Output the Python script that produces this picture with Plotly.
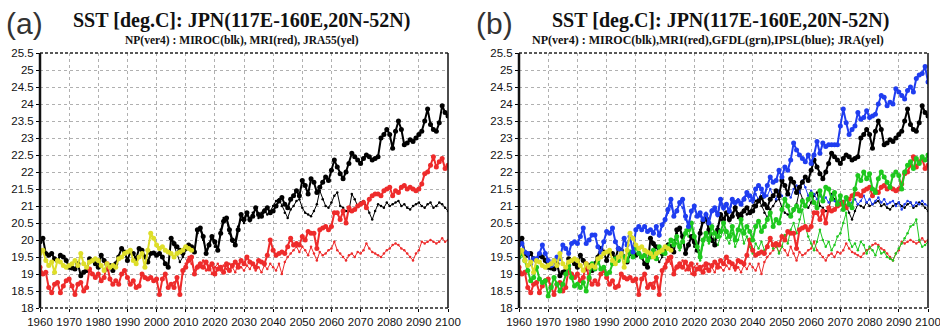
import plotly.graph_objects as go

years_all = list(range(1960, 2101))
years_lo = list(range(2006, 2101))
years_jra = list(range(1960, 2013))

# MIROC (black) high scenario 1960-2100
miroc_hi = [19.95, 20.05, 19.6, 19.55, 19.6, 19.45, 19.4, 19.55, 19.5, 19.4,
            19.2, 19.18, 19.15, 19.3, 18.95, 19.05, 19.1, 19.45, 19.4, 19.3,
            19.2, 19.55, 19.4, 19.15, 19.25, 19.1, 19.3, 19.5, 19.75, 19.65,
            19.4, 19.65, 19.6, 19.45, 19.75, 19.7, 19.5, 19.35, 19.6, 19.62,
            19.55, 19.6, 19.5, 19.3, 19.2, 20.05, 19.9, 19.8, 19.7, 19.6,
            19.75, 19.85, 19.8, 19.65, 20.3, 20.35, 20.1, 19.6, 19.85, 20.1,
            19.95, 19.7, 20.2, 20.55, 20.65, 20.3, 20.0, 19.85, 20.3, 20.75,
            20.6, 20.8, 20.6, 20.7, 20.95, 20.75, 20.7, 20.85, 20.95, 20.8,
            20.85, 21.0, 21.15, 21.25, 21.05, 20.95, 21.2, 21.3, 21.45, 21.3,
            21.75, 21.6, 21.35, 21.8, 21.7, 21.4, 21.55, 21.7, 21.85, 21.75,
            22.05, 22.35, 22.15, 21.95, 21.8, 22.0, 22.25, 22.55, 22.45, 22.35,
            22.25, 22.4, 22.5, 22.45, 22.35, 22.4, 22.45, 23.0, 23.1, 23.25,
            23.1, 22.7, 23.2, 23.5, 23.25, 22.8, 22.85, 22.95, 22.9, 23.0,
            23.1, 23.2, 23.5, 23.85, 23.4, 23.25, 23.2, 23.45, 23.95, 23.75,
            23.65]

# MIROC (black) low scenario 2006-2100
miroc_lo = [19.85, 19.6, 19.35, 19.5, 19.7, 19.8, 19.75, 19.7, 20.2, 20.3,
            20.0, 19.7, 19.9, 20.05, 19.8, 19.75, 20.3, 20.65, 20.6, 20.2,
            19.95, 20.0, 20.4, 20.6, 20.5, 20.75, 20.55, 20.8, 20.9, 20.65,
            20.8, 20.9, 20.75, 20.85, 21.0, 21.15, 21.2, 21.0, 20.8, 20.65,
            20.9, 21.0, 21.15, 21.2, 20.95, 20.8, 20.75, 20.7, 20.85, 21.05,
            21.45, 21.2, 21.0, 20.95, 21.1, 21.3, 21.4, 21.0, 20.95, 20.85,
            20.85, 21.35, 21.2, 21.0, 21.1, 21.15, 21.0, 20.8, 20.6, 20.85,
            21.05, 21.0, 20.95, 21.1, 21.0, 21.05, 21.1, 21.15, 21.0, 21.05,
            20.95, 20.9, 21.0, 21.05, 21.1, 21.0, 20.95, 21.05, 21.1, 20.95,
            21.0, 21.1, 21.05, 20.95, 20.85]

# MRI (red) high scenario 1960-2100
mri_hi = [19.2, 19.0, 19.05, 18.6, 18.45, 18.7, 18.75, 18.45, 18.65, 18.8,
          18.85, 18.65, 18.4, 18.7, 18.75, 18.5, 18.6, 19.15, 19.0, 18.9,
          19.0, 18.8, 18.9, 19.3, 18.85, 18.7, 18.8, 18.7, 19.0, 19.1,
          18.9, 18.7, 18.8, 18.6, 18.65, 19.0, 18.9, 18.85, 18.9, 18.8,
          18.85, 18.4, 18.85, 19.0, 18.6, 18.7, 18.6, 18.9, 18.4, 19.1,
          19.2, 19.4, 19.5, 19.0, 19.2, 19.3, 19.2, 19.35, 19.15, 19.3,
          19.0, 19.15, 19.2, 19.05, 19.3, 19.1, 19.25, 19.35, 19.2, 19.4,
          19.3, 19.5, 19.35, 19.3, 19.2, 19.4, 19.35, 19.3, 19.55, 20.0,
          19.7, 19.55, 19.6, 19.65, 19.6, 19.8, 20.05, 19.85, 19.9, 19.85,
          20.1, 20.0, 20.25, 20.2, 20.2, 19.75, 20.3, 20.35, 20.4, 20.3,
          20.4, 20.8, 20.8, 20.6, 20.85, 20.5, 20.95, 20.85, 20.9, 21.0,
          21.05, 21.1, 20.95, 21.2, 21.3, 21.35, 21.35, 21.3, 21.45, 21.5,
          21.55, 21.3, 21.45, 21.4, 21.55, 21.6, 21.5, 21.55, 21.5, 21.45,
          21.5, 21.65, 21.95, 22.0, 22.2, 22.45, 22.15, 22.3, 22.4, 22.1,
          22.2]

# MRI (red) low scenario 2006-2100
mri_lo = [18.75, 18.85, 18.55, 19.0, 19.3, 19.5, 19.3, 19.1, 19.25, 19.2,
          19.4, 19.1, 19.25, 19.0, 19.2, 19.3, 19.1, 19.25, 19.15, 19.3,
          19.2, 19.05, 19.3, 19.2, 19.1, 19.25, 19.15, 19.3, 19.1, 19.2,
          19.05, 19.25, 19.15, 19.3, 19.2, 19.1, 19.3, 19.0, 19.35, 19.5,
          19.6, 19.7, 19.8, 19.65, 19.8, 19.7, 19.55, 19.8, 19.6, 19.4,
          19.65, 19.55, 19.6, 19.7, 19.75, 19.95, 19.7, 19.6, 19.5, 19.4,
          19.55, 19.6, 19.5, 19.65, 19.6, 19.7, 19.9, 19.75, 19.65, 19.6,
          19.55, 19.5, 19.6, 19.7, 19.75, 19.85, 19.9, 19.85, 19.75, 19.7,
          19.6, 19.5, 19.4, 19.6, 19.7, 19.95, 19.9, 19.95, 20.0, 19.95,
          19.9, 19.95, 20.05, 19.95, 20.0]

# GFDL (green) high scenario 1960-2100
gfdl_hi = [19.5, 19.6, 19.4, 19.1, 18.8, 18.9, 19.2, 18.85, 18.75, 18.8,
           18.35, 18.6, 18.9, 18.7, 18.5, 18.7, 19.0, 19.25, 18.9, 18.65,
           18.7, 18.6, 18.75, 18.5, 18.9, 19.3, 19.15, 19.4, 19.15, 19.2,
           19.0, 19.05, 19.3, 19.45, 19.4, 19.55, 19.5, 19.4, 19.65, 19.5,
           19.8, 19.6, 19.5, 19.55, 19.4, 19.5, 19.7, 19.45, 19.8, 19.65,
           19.6, 19.8, 20.0, 19.85, 20.1, 19.8, 19.95, 20.2, 20.3, 20.5,
           20.1, 19.8, 19.5, 20.0, 20.2, 20.0, 20.4, 20.2, 20.1, 20.25,
           20.5, 20.25, 20.1, 20.4, 20.0, 20.3, 20.6, 20.2, 20.4, 20.25,
           20.0, 20.4, 20.55, 20.25, 20.4, 20.6, 20.8, 20.4, 20.6, 20.5,
           20.9, 21.2, 21.0, 20.7, 20.9, 21.0, 20.85, 21.15, 21.0, 21.2,
           21.35, 21.1, 20.95, 21.45, 21.15, 21.55, 21.5, 21.2, 21.4, 21.05,
           21.3, 20.9, 21.25, 21.05, 20.95, 21.5, 21.9, 21.75, 22.0, 21.8,
           21.95, 21.5, 21.4, 21.8, 22.0, 21.85, 21.7, 21.55, 21.9, 22.0,
           21.9, 21.5, 22.0, 22.2, 22.3, 22.1, 22.4, 22.25, 22.45, 22.35,
           22.5]

# GFDL (green) low scenario 2006-2100
gfdl_lo = [19.6, 19.5, 19.75, 19.55, 19.7, 19.9, 19.8, 20.0, 19.9, 19.7,
           20.05, 20.3, 20.1, 20.4, 19.9, 19.7, 19.4, 19.85, 20.1, 19.9,
           20.2, 20.0, 19.85, 20.1, 20.3, 20.05, 19.9, 20.2, 19.8, 20.0,
           20.3, 19.9, 20.1, 19.8, 19.6, 19.9, 19.75, 19.95, 19.7, 19.85,
           20.05, 19.75, 19.9, 19.6, 19.8, 20.15, 19.9, 20.3, 20.5, 20.2,
           20.6, 20.9, 20.4, 20.1, 19.9, 19.7, 19.95, 20.3, 20.0, 19.8,
           19.95, 19.7, 19.85, 20.1, 20.2, 20.5, 20.8, 20.0, 19.8, 19.9,
           19.7, 19.95, 19.85, 19.6, 19.8, 19.7, 19.55, 19.8, 19.6, 19.65,
           19.5, 19.45, 19.4, 19.6, 19.75, 19.9, 20.05, 20.2, 20.4, 20.45,
           20.6, 20.0, 19.8, 19.85, 19.95]

# IPSL (blue) high scenario 1960-2100
ipsl_hi = [19.85, 19.9, 19.65, 19.6, 19.3, 19.45, 19.45, 19.6, 19.85, 19.6,
           19.4, 19.25, 19.4, 19.5, 19.45, 19.85, 19.75, 19.6, 19.9, 19.95,
           19.9, 20.1, 20.35, 19.9, 20.0, 20.15, 20.15, 19.8, 19.65, 19.95,
           20.25, 20.2, 20.35, 19.95, 19.75, 19.6, 20.05, 19.85, 20.1, 19.65,
           20.3, 20.4, 20.3, 20.4, 20.25, 20.3, 20.2, 20.4, 20.15, 20.45,
           20.6, 20.9, 21.2, 20.7, 20.85, 21.1, 21.2, 20.7, 20.4, 20.85,
           21.0, 20.7, 20.8, 20.6, 20.75, 20.5, 20.85, 20.95, 20.75, 21.2,
           20.95, 21.05, 20.85, 21.2, 21.1, 21.15, 21.05, 21.2, 21.4, 21.3,
           21.2, 21.5, 21.6, 21.5, 21.3, 21.6, 21.85, 21.7, 21.75, 22.05,
           21.85, 22.15, 22.05, 22.35, 22.85, 22.65, 22.5, 22.4, 22.3, 22.5,
           22.25, 22.5, 22.9, 22.55, 22.85, 22.75, 22.8, 22.8, 22.8, 22.8,
           23.35, 23.85, 23.45, 23.1, 23.25, 23.35, 23.75, 23.55, 23.6, 23.8,
           23.6, 23.65, 23.7, 24.0, 24.25, 24.2, 23.95, 24.05, 24.0, 24.45,
           24.35, 24.25, 24.15, 24.4, 24.5, 24.35, 24.75, 24.85, 24.9, 25.1,
           24.65]

# IPSL (blue) low scenario 2006-2100
ipsl_lo = [20.25, 20.35, 20.1, 20.4, 20.55, 20.8, 21.0, 20.75, 20.9, 21.05,
           20.95, 20.6, 20.5, 20.8, 20.95, 20.75, 20.7, 20.55, 20.8, 20.6,
           20.9, 20.85, 20.7, 21.05, 20.9, 21.0, 20.8, 21.1, 21.0, 21.2,
           21.1, 21.25, 21.3, 21.15, 21.1, 21.35, 21.2, 21.4, 21.25, 21.3,
           21.5, 21.3, 21.2, 21.45, 21.3, 21.2, 21.4, 21.25, 21.5, 21.6,
           21.4, 21.75, 21.55, 21.3, 21.45, 21.35, 21.2, 21.3, 21.15, 21.25,
           21.1, 21.3, 21.15, 21.05, 21.2, 21.1, 21.25, 21.0, 21.1, 21.2,
           21.05, 21.15, 21.3, 21.1, 21.2, 21.05, 21.15, 21.25, 21.1, 21.2,
           21.05, 21.1, 21.15, 21.0, 21.1, 20.9, 21.05, 21.15, 21.1, 21.0,
           21.1, 21.05, 21.15, 21.05, 21.0]

# JRA55 (yellow) reanalysis 1960-2012
jra55 = [19.6, 19.7, 19.4, 19.25, 19.35, 19.05, 19.4, 19.35, 19.25, 19.2,
         19.25, 19.3, 19.4, 19.25, 19.6, 19.3, 19.2, 19.35, 19.4, 19.45,
         19.4, 19.25, 19.1, 19.3, 19.2, 19.25, 19.2, 19.45, 19.5, 19.6,
         19.65, 19.7, 19.4, 19.3, 19.5, 19.6, 19.2, 19.7, 20.2, 20.05,
         19.85, 19.75, 19.8, 19.7, 19.65, 19.6, 19.5, 19.6, 19.65, 19.7,
         19.8, 19.75, 19.7]

y_tickvals = [18, 18.5, 19, 19.5, 20, 20.5, 21, 21.5, 22, 22.5, 23, 23.5, 24, 24.5, 25, 25.5]
y_ticktext = ["18", "18.5", "19", "19.5", "20", "20.5", "21", "21.5", "22", "22.5",
              "23", "23.5", "24", "24.5", "25", "25.5"]
x_tickvals = list(range(1960, 2101, 10))
x_ticktext = [str(v) for v in x_tickvals]

BLACK = "#000000"
RED = "#ee2b2b"
GREEN = "#1ec81e"
BLUE = "#1f3df0"
YELLOW = "#dede2a"

fig = go.Figure()

def add_thin(hist, lo, color, xa, ya):
    xs = [years_all[45]] + years_lo
    ys = [hist[45]] + lo
    fig.add_trace(go.Scatter(x=xs, y=ys, mode="lines+markers", xaxis=xa, yaxis=ya,
                             line=dict(color=color, width=1),
                             marker=dict(color=color, size=2.5),
                             showlegend=False, hoverinfo="skip"))

def add_thick(hist, color, xa, ya):
    fig.add_trace(go.Scatter(x=years_all, y=hist, mode="lines+markers", xaxis=xa, yaxis=ya,
                             line=dict(color=color, width=2),
                             marker=dict(color=color, size=5),
                             showlegend=False, hoverinfo="skip"))

def add_jra(xa, ya):
    fig.add_trace(go.Scatter(x=years_jra, y=jra55, mode="lines+markers", xaxis=xa, yaxis=ya,
                             line=dict(color=YELLOW, width=2),
                             marker=dict(color=YELLOW, size=5),
                             showlegend=False, hoverinfo="skip"))

# Panel (a)
add_thin(miroc_hi, miroc_lo, BLACK, "x", "y")
add_thin(mri_hi, mri_lo, RED, "x", "y")
add_thick(miroc_hi, BLACK, "x", "y")
add_thick(mri_hi, RED, "x", "y")
add_jra("x", "y")

# Panel (b)
add_thin(miroc_hi, miroc_lo, BLACK, "x2", "y2")
add_thin(mri_hi, mri_lo, RED, "x2", "y2")
add_thin(gfdl_hi, gfdl_lo, GREEN, "x2", "y2")
add_thin(ipsl_hi, ipsl_lo, BLUE, "x2", "y2")
add_thick(miroc_hi, BLACK, "x2", "y2")
add_thick(mri_hi, RED, "x2", "y2")
add_thick(gfdl_hi, GREEN, "x2", "y2")
add_thick(ipsl_hi, BLUE, "x2", "y2")
add_jra("x2", "y2")

W, H = 940, 329
ya_dom = [(329 - 308) / H, (329 - 53) / H]
xa_dom = [40 / W, 448 / W]
xb_dom = [519 / W, 928 / W]

tickfont = dict(family="Liberation Sans, Arial, sans-serif", size=11.5, color="#111")

def xaxis_cfg(dom, anchor):
    return dict(domain=dom, anchor=anchor, range=[1960, 2100], tickvals=x_tickvals,
                ticktext=x_ticktext, ticks="outside", ticklen=3, tickcolor="#000",
                showgrid=True, gridcolor="#b0b0b0", griddash="dot", gridwidth=1,
                zeroline=False, showline=False, tickfont=tickfont, automargin=False,
                ticklabeloverflow="allow", fixedrange=True)

def yaxis_cfg(anchor):
    return dict(domain=ya_dom, anchor=anchor, range=[18, 25.5], tickvals=y_tickvals,
                ticktext=y_ticktext, ticks="outside", ticklen=3, tickcolor="#000",
                showgrid=True, gridcolor="#b0b0b0", griddash="dot", gridwidth=1,
                zeroline=False, showline=False, tickfont=tickfont, automargin=False,
                ticklabeloverflow="allow", fixedrange=True)

fig.update_layout(
    width=W, height=H, template="none",
    margin=dict(l=0, r=0, t=0, b=0, autoexpand=False),
    paper_bgcolor="white", plot_bgcolor="white",
    xaxis=xaxis_cfg(xa_dom, "y"), yaxis=yaxis_cfg("x"),
    xaxis2=xaxis_cfg(xb_dom, "y2"), yaxis2=yaxis_cfg("x2"),
    showlegend=False,
)

# frames
for xr, yr in (("x domain", "y domain"), ("x2 domain", "y2 domain")):
    fig.add_shape(type="line", xref=xr, yref=yr, x0=0, x1=1, y0=1, y1=1,
                  line=dict(color="#222", width=1.5, dash="3px,2px"), layer="above")
    fig.add_shape(type="line", xref=xr, yref=yr, x0=0, x1=1, y0=0, y1=0,
                  line=dict(color="#222", width=1.5, dash="3px,2px"), layer="above")
    fig.add_shape(type="line", xref=xr, yref=yr, x0=0, x1=0, y0=0, y1=1,
                  line=dict(color="#111", width=2.5), layer="above")
    fig.add_shape(type="line", xref=xr, yref=yr, x0=1, x1=1, y0=0, y1=1,
                  line=dict(color="#111", width=1.5), layer="above")

serif = "Liberation Serif, Times New Roman, serif"
big = "Liberation Sans, Arial, sans-serif"
ann = [
    dict(text="(a)", x=4 / W, y=1 - 23 / H, xanchor="left", yanchor="middle",
         font=dict(family=big, size=30, color="#333")),
    dict(text="(b)", x=474 / W, y=1 - 23 / H, xanchor="left", yanchor="middle",
         font=dict(family=big, size=30, color="#333")),
    dict(text="<b>SST [deg.C]: JPN(117E-160E,20N-52N)</b>", x=242 / W, y=1 - 21 / H,
         xanchor="center", yanchor="middle", font=dict(family=serif, size=20, color="#111")),
    dict(text="<b>SST [deg.C]: JPN(117E-160E,20N-52N)</b>", x=720 / W, y=1 - 21 / H,
         xanchor="center", yanchor="middle", font=dict(family=serif, size=20, color="#111")),
    dict(text="<b>NP(ver4) : MIROC(blk), MRI(red), JRA55(yel)</b>", x=242 / W, y=1 - 40 / H,
         xanchor="center", yanchor="middle", font=dict(family=serif, size=11.5, color="#111")),
    dict(text="<b>NP(ver4) : MIROC(blk),MRI(red),GFDL(grn),IPSL(blue); JRA(yel)</b>",
         x=708 / W, y=1 - 40 / H, xanchor="center", yanchor="middle",
         font=dict(family=serif, size=12, color="#111")),
]
for a in ann:
    a.update(xref="paper", yref="paper", showarrow=False)
fig.update_layout(annotations=ann)

fig.write_html("out.html", config={"displayModeBar": False},
               post_script="document.body.style.margin='0px';document.body.style.overflow='hidden';")
